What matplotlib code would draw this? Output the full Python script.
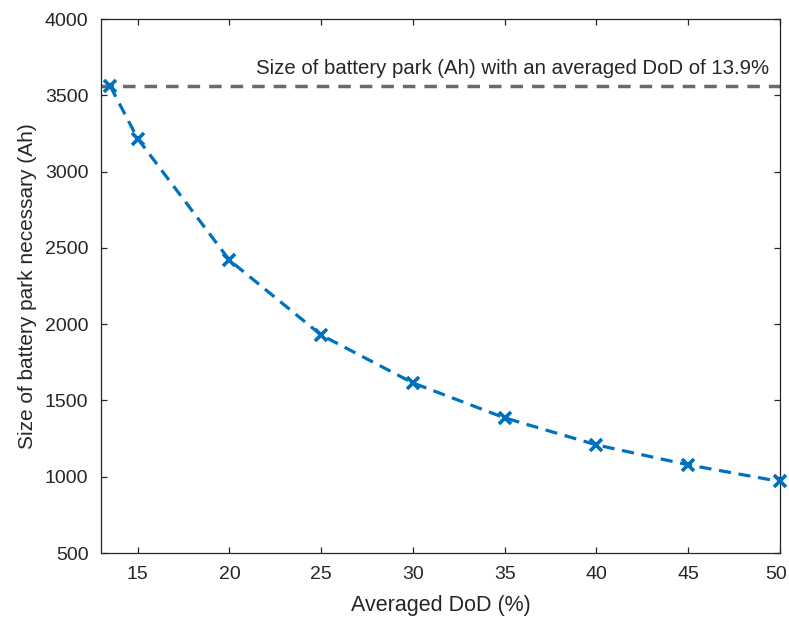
import matplotlib
matplotlib.use('Agg')
import matplotlib.pyplot as plt
import matplotlib.transforms as mtransforms

# averaged depth of discharge (%) and battery park size needed (Ah)
dod = [13.5, 15, 20, 25, 30, 35, 40, 45, 50]
size_ah = [3562, 3217, 2420, 1929, 1615, 1386, 1209, 1078, 969]
ref_size = 3562
ref_label = 'Size of battery park (Ah) with an averaged DoD of 13.9%'

plt.rcParams['font.family'] = ['Liberation Sans', 'DejaVu Sans']

fig = plt.figure(figsize=(7.89, 6.19), dpi=100)
ax = fig.add_axes([0.128, 0.1066, 0.8606, 0.8624])

ax.axhline(ref_size, color='#6a6a6a', linestyle=(0, (3.6, 2.6)), linewidth=2.5, zorder=2)
ax.plot(dod, size_ah, color='#0072BD', linestyle=(0, (3.8, 2.4)), linewidth=2.3,
        marker='x', markersize=8.5, markeredgewidth=2.6, zorder=3, clip_on=False)
ax.text(49.4, ref_size + 55, ref_label, ha='right', va='bottom', fontsize=14.7, color='#262626')

ax.set_xlim(13, 50)
ax.set_ylim(500, 4000)
ax.set_xticks([15, 20, 25, 30, 35, 40, 45, 50])
ax.set_yticks(range(500, 4001, 500))
ax.tick_params(direction='in', top=True, right=True, labelsize=14, colors='#262626',
               length=4.5, width=0.9, pad=9)
for s in ax.spines.values():
    s.set_color('#262626')
    s.set_linewidth(0.9)
ax.set_xlabel('Averaged DoD (%)', fontsize=15.5, color='#262626', labelpad=9)
ax.set_ylabel('Size of battery park necessary (Ah)', fontsize=15, color='#262626', labelpad=6)

# keep the last x tick label inside the figure
fig.canvas.draw()
last = ax.get_xticklabels()[-1]
last.set_transform(last.get_transform() + mtransforms.ScaledTranslation(-4 / 100, 0, fig.dpi_scale_trans))

fig.savefig('out.png', dpi=100)
